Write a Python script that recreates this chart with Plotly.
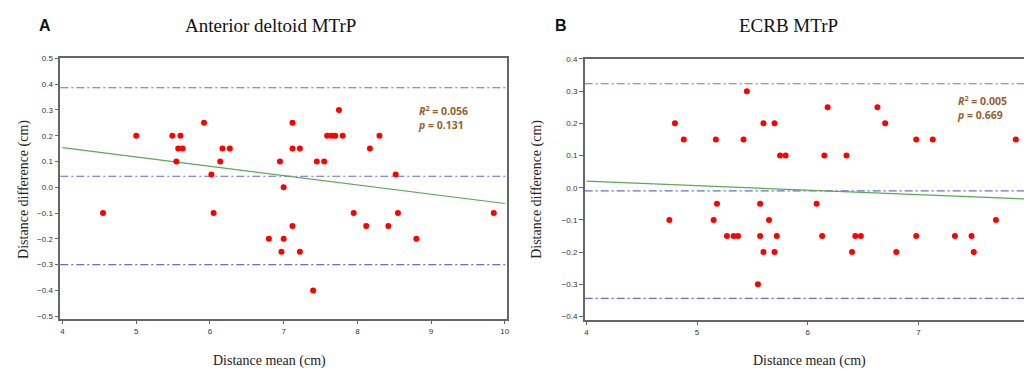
import plotly.graph_objects as go

# ---- Panel A: Anterior deltoid MTrP ----
a_mean = [4.55, 5.00, 5.49, 5.60, 5.57, 5.63, 5.545, 5.92, 6.02, 6.05,
          6.14, 6.17, 6.27, 6.80, 6.95, 6.97, 7.00, 7.00, 7.12, 7.12,
          7.12, 7.22, 7.22, 7.40, 7.45, 7.55, 7.59, 7.65, 7.70, 7.75,
          7.80, 7.95, 8.12, 8.17, 8.30, 8.42, 8.52, 8.55, 8.80, 9.85]
a_diff = [-0.10, 0.20, 0.20, 0.20, 0.15, 0.15, 0.10, 0.25, 0.05, -0.10,
          0.10, 0.15, 0.15, -0.20, 0.10, -0.25, 0.00, -0.20, 0.25, 0.15,
          -0.15, 0.15, -0.25, -0.40, 0.10, 0.10, 0.20, 0.20, 0.20, 0.30,
          0.20, -0.10, -0.15, 0.15, 0.20, -0.15, 0.05, -0.10, -0.20, -0.10]
a_bias = 0.043
a_loa = [0.386, -0.300]
a_fit_x = [4.0, 10.0]
a_fit_y = [0.154, -0.063]
a_stats = ["0.056", "0.131"]

# ---- Panel B: ECRB MTrP ----
b_mean = [4.75, 4.80, 4.88, 5.15, 5.17, 5.18, 5.27, 5.33, 5.37, 5.42,
          5.45, 5.55, 5.57, 5.57, 5.60, 5.60, 5.65, 5.70, 5.70, 5.72,
          5.75, 5.80, 6.08, 6.13, 6.15, 6.18, 6.35, 6.40, 6.43, 6.48,
          6.63, 6.70, 6.80, 6.98, 6.98, 7.13, 7.33, 7.48, 7.50, 7.70, 7.88]
b_diff = [-0.10, 0.20, 0.15, -0.10, 0.15, -0.05, -0.15, -0.15, -0.15, 0.15,
          0.30, -0.30, -0.05, -0.15, 0.20, -0.20, -0.10, 0.20, -0.20, -0.15,
          0.10, 0.10, -0.05, -0.15, 0.10, 0.25, 0.10, -0.20, -0.15, -0.15,
          0.25, 0.20, -0.20, 0.15, -0.15, 0.15, -0.15, -0.15, -0.20, -0.10, 0.15]
b_bias = -0.010
b_loa = [0.323, -0.344]
b_fit_x = [4.0, 7.954]
b_fit_y = [0.0205, -0.035]
b_stats = ["0.005", "0.669"]

x_ticks_a = [4, 5, 6, 7, 8, 9, 10]
x_ticks_b = [4, 5, 6, 7]
y_ticks_a = [-0.5, -0.4, -0.3, -0.2, -0.1, 0.0, 0.1, 0.2, 0.3, 0.4, 0.5]
y_ticks_b = [-0.4, -0.3, -0.2, -0.1, 0.0, 0.1, 0.2, 0.3, 0.4]

BLUE = "#6a6ad8"
GREEN = "#5aa85a"
RED = "#ff0000"
BROWN = "#94622f"
AXC = "#666666"
DASH = "8px,3px,2px,3px"

fig = go.Figure()

# regression lines
fig.add_trace(go.Scatter(x=a_fit_x, y=a_fit_y, mode="lines",
                         line=dict(color=GREEN, width=1.2), xaxis="x", yaxis="y",
                         showlegend=False, hoverinfo="skip"))
fig.add_trace(go.Scatter(x=b_fit_x, y=b_fit_y, mode="lines",
                         line=dict(color=GREEN, width=1.2), xaxis="x2", yaxis="y2",
                         showlegend=False, hoverinfo="skip"))

# points
fig.add_trace(go.Scatter(x=a_mean, y=a_diff, mode="markers",
                         marker=dict(color=RED, size=6), xaxis="x", yaxis="y",
                         showlegend=False))
fig.add_trace(go.Scatter(x=b_mean, y=b_diff, mode="markers",
                         marker=dict(color=RED, size=6), xaxis="x2", yaxis="y2",
                         showlegend=False))

# bias and limits of agreement
for v in [a_bias] + a_loa:
    fig.add_shape(type="line", xref="x domain", yref="y", x0=0, x1=1, y0=v, y1=v,
                  line=dict(color=BLUE, width=1.1, dash=DASH), layer="below")
for v in [b_bias] + b_loa:
    fig.add_shape(type="line", xref="x2 domain", yref="y2", x0=0, x1=1, y0=v, y1=v,
                  line=dict(color=BLUE, width=1.1, dash=DASH), layer="below")

W, H = 1027, 372
tickfont = dict(family="Liberation Sans, Arial", size=8, color="#333333")
axis_common = dict(showgrid=False, zeroline=False, showline=True, linecolor=AXC,
                   linewidth=1.5, ticks="outside", ticklen=4, tickcolor=AXC,
                   tickwidth=1, tickfont=tickfont)

fig.update_layout(
    width=W, height=H,
    margin=dict(l=0, r=0, t=0, b=0),
    paper_bgcolor="white", plot_bgcolor="white",
    xaxis=dict(domain=[59.5 / W, 508 / W], range=[3.97, 10.03],
               tickvals=x_ticks_a, mirror=True, anchor="y", **axis_common),
    yaxis=dict(domain=[(H - 319.9) / H, (H - 55.3) / H], range=[-0.51, 0.5],
               tickvals=y_ticks_a, tickformat=".1f", mirror=True, anchor="x",
               **axis_common),
    xaxis2=dict(domain=[586 / W, 1.0], range=[3.985, 7.954],
                tickvals=x_ticks_b, mirror=True, anchor="y2", **axis_common),
    yaxis2=dict(domain=[(H - 320.8) / H, (H - 55.9) / H], range=[-0.41, 0.4],
                tickvals=y_ticks_b, tickformat=".1f", anchor="x2", **axis_common),
)

serif = "Liberation Serif, Times New Roman, serif"
ann = []
def px_ann(x, y, text, size, family, color="#222222", angle=0, xanchor="center", **kw):
    ann.append(dict(x=x / W, y=1 - y / H, xref="paper", yref="paper", text=text,
                    showarrow=False, font=dict(size=size, family=family, color=color),
                    textangle=angle, xanchor=xanchor, yanchor="middle", **kw))

px_ann(44, 22, "<b>A</b>", 16, "Liberation Sans, Arial", color="#111111")
px_ann(271, 22, "Anterior deltoid MTrP", 19, serif, color="#111111")
px_ann(562, 22, "<b>B</b>", 16, "Liberation Sans, Arial", color="#111111")
px_ann(791, 22, "ECRB MTrP", 19, serif, color="#111111")

px_ann(23, 188, "Distance difference (cm)", 14, serif, angle=-90)
px_ann(538, 188, "Distance difference (cm)", 14, serif, angle=-90)
px_ann(270, 363, "Distance mean (cm)", 14, serif)
px_ann(812, 363, "Distance mean (cm)", 14, serif)

stat_font = "Open Sans, Liberation Sans, Arial"
px_ann(417, 115, "<b><i>R</i><sup>2</sup> = %s<br><i>p</i> = %s</b>" % tuple(a_stats),
       10.5, stat_font, color=BROWN, xanchor="left", align="left")
px_ann(958, 105, "<b><i>R</i><sup>2</sup> = %s<br><i>p</i> = %s</b>" % tuple(b_stats),
       10.5, stat_font, color=BROWN, xanchor="left", align="left")

fig.update_layout(annotations=ann)
fig.write_html("out.html",
               config={"displayModeBar": False},
               post_script="document.body.style.margin='0px';"
                           "document.body.style.overflow='hidden';")
